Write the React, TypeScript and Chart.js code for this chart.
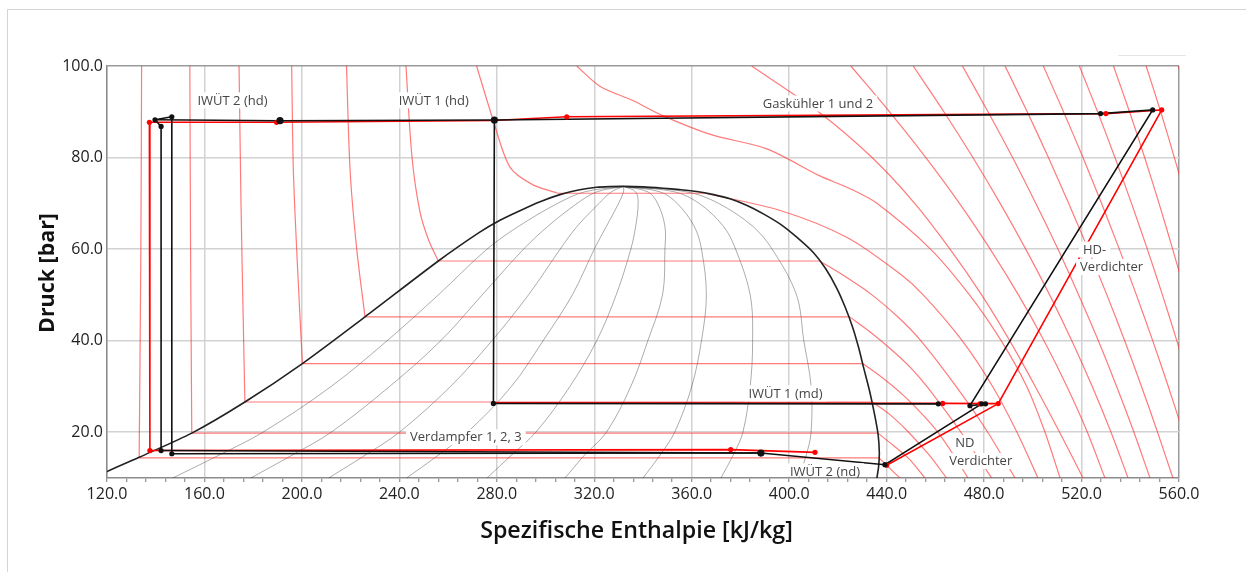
import React, { useEffect, useRef } from 'react';
import { Chart, registerables } from 'chart.js';
Chart.register(...registerables);

type Pt = [number, number];

// ---------- axes ----------
const xMajorTicks = [120, 160, 200, 240, 280, 320, 360, 400, 440, 480, 520, 560];
const xMinorDivisions = 5;
const yTicks = [20, 40, 60, 80, 100];

// ---------- saturation dome ----------
const domeCurve: Pt[] = [
  [116, 10], [120, 11.4], [133.5, 14.6], [154.8, 19.8], [176.6, 26.6], [200.2, 35], [225.9, 45.2],
  [256, 57.4], [273, 63.7], [281.3, 66.3], [289.5, 68.4], [297.5, 70.3], [305.9, 71.9], [313.5, 72.9],
  [321, 73.5], [326.5, 73.65], [331.9, 73.7], [340, 73.6], [348.3, 73.3], [355, 73], [362, 72.6],
  [369, 71.9], [375.7, 71], [382.5, 69.6], [389.4, 67.7], [396.5, 65.4], [403.1, 62.6], [410, 59.2],
  [415, 55.7], [419.5, 51.5], [423, 47.3], [426, 43], [428.5, 38.5], [430.6, 34], [433, 29], [435, 24],
  [436.5, 19.5], [437, 15.5], [436.7, 12.5], [436, 10],
];

// ---------- vapour quality lines (grey) ----------
const qualityP = [10, 15, 20, 30, 40, 50, 60, 65, 70, 72.5, 73.7];
const quality10 = [147, 166, 184, 212, 235, 256, 276, 289, 305, 316, 332];
const quality20 = [179, 196, 212, 236, 257, 274, 291, 301, 313, 321, 332];
const quality30 = [211, 226, 240, 261, 278, 293, 306, 313, 322, 327, 332];
const quality40 = [243, 256, 268, 286, 299, 311, 320, 325, 330, 332, 332];
const quality50 = [276, 286, 296, 310, 321, 329, 335, 337, 338, 337, 332];
const quality60 = [308, 316, 325, 335, 342, 348, 349, 349, 346, 342, 332];
const quality70 = [340, 347, 353, 360, 364, 366, 364, 361, 354, 347, 332];
const quality80 = [372, 377, 381, 384, 385, 384, 378, 373, 363, 353, 332];
const quality90 = [404, 407, 409, 409, 406, 403, 393, 385, 371, 358, 332];
const qualityLines = [quality10, quality20, quality30, quality40, quality50, quality60, quality70, quality80, quality90];

// ---------- isotherms (red) ----------
// liquid branches of the sub-critical isotherms (-30 ... +30 °C)
const isoLiqM30: Pt[] = [[134.2, 100], [133.9, 60], [133.2, 14.4]];
const isoLiqM20: Pt[] = [[154.0, 100], [154.3, 60], [154.8, 19.8]];
const isoLiqM10: Pt[] = [[174.2, 100], [175.0, 70], [175.9, 45], [176.6, 26.6]];
const isoLiq0: Pt[] = [[195.8, 100], [196.5, 77], [198.3, 55], [200.2, 35]];
const isoLiq10: Pt[] = [[218.3, 100], [219.8, 77], [222.5, 60], [225.9, 45.2]];
const isoLiq20: Pt[] = [[242.7, 100], [245.2, 80], [248.5, 68], [252, 62], [256, 57.4]];
const isoLiq30: Pt[] = [[271.7, 100], [278.6, 88], [285.4, 77.9], [294.3, 74.2], [305, 72.2]];
// vapour branches of the same isotherms
const isoVapM30: Pt[] = [[436.9, 14.4], [441.5, 12], [445.5, 10]];
const isoVapM20: Pt[] = [[436.4, 19.8], [443, 17], [449.5, 14], [455.7, 10]];
const isoVapM10: Pt[] = [[434.2, 26.6], [441, 24], [449, 20], [457.5, 15], [464.6, 10]];
const isoVap0: Pt[] = [[430.2, 35], [438, 32], [447, 28], [454.5, 24], [461, 20], [467.5, 15], [473.4, 10]];
const isoVap10: Pt[] = [[424.8, 45.2], [433, 42], [442, 38], [450, 34], [456.5, 30], [470.5, 20], [483.1, 10]];
const isoVap20: Pt[] = [[412.5, 57.4], [423, 54], [434, 50], [445, 45], [454, 40], [468.5, 30], [481.5, 20], [492.7, 10]];
const isoVap30: Pt[] = [[365.4, 72.2], [396, 68.5], [423.6, 62.6], [445.5, 54.6], [455, 50], [471, 40], [483.5, 30], [493.5, 20], [502.1, 10]];
const isoLiquid = [isoLiqM30, isoLiqM20, isoLiqM10, isoLiq0, isoLiq10, isoLiq20, isoLiq30];
const isoVapour = [isoVapM30, isoVapM20, isoVapM10, isoVap0, isoVap10, isoVap20, isoVap30];
// super-critical isotherms (40 ... 140 °C)
const iso40: Pt[] = [[312.8, 100], [322.3, 95.6], [336, 92.4], [348.3, 89.1], [368, 85], [390.8, 81.9], [412.6, 76], [425, 73.2], [436, 70], [458, 60], [474, 50], [487, 40], [497.5, 30], [505, 20], [511.2, 10]];
const iso50: Pt[] = [[384.6, 100], [412, 90], [434, 80], [451.5, 70], [466, 60], [479, 50], [490.5, 40], [501, 30], [511, 20], [520.6, 10]];
const iso60: Pt[] = [[425.3, 100], [441.2, 90], [456.1, 80], [469.9, 70], [482.5, 60], [494.1, 50], [504.6, 40], [514, 30], [522.4, 20], [529.6, 10]];
const iso70: Pt[] = [[450.9, 100], [463.5, 90], [475.4, 80], [486.6, 70], [497.1, 60], [506.9, 50], [516, 40], [524.4, 30], [532.1, 20], [539.1, 10]];
const iso80: Pt[] = [[471.1, 100], [481.6, 90], [491.7, 80], [501.2, 70], [510.3, 60], [518.8, 50], [526.9, 40], [534.4, 30], [541.5, 20], [548.1, 10]];
const iso90: Pt[] = [[488.6, 100], [497.7, 90], [506.4, 80], [514.7, 70], [522.7, 60], [530.4, 50], [537.7, 40], [544.6, 30], [551.2, 20], [557.5, 10]];
const iso100: Pt[] = [[504.3, 100], [512.6, 90], [520.6, 80], [528.2, 70], [535.5, 60], [542.5, 50], [549.2, 40], [555.6, 30], [561.7, 20]];
const iso110: Pt[] = [[519.1, 100], [526.6, 90], [533.7, 80], [540.5, 70], [547, 60], [553.2, 50], [559.1, 40], [564.7, 30]];
const iso120: Pt[] = [[533.1, 100], [539.7, 90], [545.9, 80], [551.8, 70], [557.4, 60], [562.8, 50]];
const iso130: Pt[] = [[546.5, 100], [552.5, 90], [558.1, 80], [563.5, 70]];
const iso140: Pt[] = [[559.8, 100], [565, 90]];
const isoSuper = [iso40, iso50, iso60, iso70, iso80, iso90, iso100, iso110, iso120, iso130, iso140];

// ---------- cycle (black = measured, red = model) ----------
const blackHighPressure: Pt[] = [[139.7, 88.25], [191.0, 88.05], [279.0, 88.2], [527.8, 89.6], [549.2, 90.4], [474.2, 25.8]];
const blackTopLeft: Pt[] = [[142.2, 86.8], [139.7, 88.25], [146.6, 88.9]];
const blackValve1: Pt[] = [[142.2, 86.8], [142.2, 16.0]];
const blackValve2: Pt[] = [[146.6, 88.9], [146.6, 15.3]];
const blackMidPressure: Pt[] = [[279.0, 88.2], [278.6, 26.3], [461.2, 26.2]];
const blackLowPressure: Pt[] = [[142.2, 16.0], [388.4, 15.45], [439.3, 12.9], [479.0, 26.2]];
const blackLowPressure2: Pt[] = [[146.6, 15.3], [388.4, 15.45]];
const blackMixing: Pt[] = [[474.2, 25.8], [480.6, 26.2]];
const blackPoints: Pt[] = [[139.7, 88.25], [146.6, 88.9], [142.2, 86.8], [527.8, 89.6], [549.2, 90.4], [278.6, 26.3], [461.2, 26.2], [474.2, 25.8], [479.0, 26.2], [480.6, 26.2], [142.2, 16.0], [146.6, 15.3], [439.3, 12.9]];
const blackBigPoints: Pt[] = [[191.0, 88.05], [279.0, 88.2], [388.4, 15.45]];

const redHighPressure: Pt[] = [[137.4, 87.7], [189.6, 87.7], [278.6, 88.1], [308.7, 88.9], [530.0, 89.6], [552.9, 90.4], [485.8, 26.25]];
const redValve: Pt[] = [[137.4, 87.7], [137.6, 16.0]];
const redLowPressure: Pt[] = [[137.6, 16.0], [376.0, 16.2], [410.6, 15.6]];
const redLowCompressor: Pt[] = [[440.0, 12.8], [485.8, 26.25]];
const redMidPressure: Pt[] = [[278.6, 26.4], [463.0, 26.3], [485.8, 26.25]];
const redPoints: Pt[] = [[137.4, 87.7], [189.6, 87.7], [308.7, 88.9], [530.0, 89.6], [552.9, 90.4], [137.6, 16.0], [376.0, 16.2], [410.6, 15.6], [463.0, 26.3], [478.3, 26.2], [485.8, 26.25], [440.0, 12.8]];

// ---------- annotations ----------
const annotations = [
  { text: 'IWÜT 2 (hd)', h: 171.5, p: 92.5, align: 'center' },
  { text: 'IWÜT 1 (hd)', h: 254.1, p: 92.5, align: 'center' },
  { text: 'Gaskühler 1 und 2', h: 411.8, p: 91.8, align: 'center' },
  { text: 'IWÜT 1 (md)', h: 398.5, p: 28.5, align: 'center' },
  { text: 'Verdampfer 1, 2, 3', h: 267.3, p: 18.9, align: 'center' },
  { text: 'IWÜT 2 (nd)', h: 414.7, p: 11.45, align: 'center' },
  { text: 'HD-', h: 520.6, p: 59.9, align: 'left' },
  { text: 'Verdichter', h: 519.4, p: 56.1, align: 'left' },
  { text: 'ND', h: 472.1, p: 17.6, align: 'center' },
  { text: 'Verdichter', h: 478.6, p: 13.7, align: 'center' },
];
const xTitle = 'Spezifische Enthalpie [kJ/kg]';
const yTitle = 'Druck [bar]';

const FONT = '"Open Sans", "Noto Sans", sans-serif';

function fitFont(ctx: CanvasRenderingContext2D, text: string, weight: string, target: number) {
  ctx.font = `${weight} 100px ${FONT}`;
  const w = ctx.measureText(text).width;
  return (100 * target) / w;
}

const textPlugin = {
  id: 'annotText',
  afterDatasetsDraw(chart: any) {
    const { ctx, chartArea, scales } = chart;
    ctx.save();
    ctx.font = `13px ${FONT}`;
    ctx.textBaseline = 'middle';
    ctx.textAlign = 'left';
    for (const a of annotations) {
      const px = scales.x.getPixelForValue(a.h);
      const py = scales.y.getPixelForValue(a.p);
      const w = ctx.measureText(a.text).width;
      const left = a.align === 'left' ? px : px - w / 2;
      const top = Math.max(chartArea.top + 1, py - 8);
      const bottom = Math.min(chartArea.bottom - 1.5, py + 8);
      ctx.fillStyle = '#ffffff';
      ctx.fillRect(left - 4, top, w + 8, bottom - top);
      ctx.fillStyle = '#454545';
      ctx.fillText(a.text, left, py + 0.5);
    }
    ctx.restore();
  },
  afterDraw(chart: any) {
    const { ctx } = chart;
    ctx.save();
    ctx.fillStyle = '#111';
    ctx.textAlign = 'center';
    ctx.textBaseline = 'alphabetic';
    const xs = fitFont(ctx, xTitle, '600', 313);
    ctx.font = `600 ${xs}px ${FONT}`;
    ctx.fillText(xTitle, 636.5, 538);
    const ys = fitFont(ctx, yTitle, 'bold', 120);
    ctx.font = `bold ${ys}px ${FONT}`;
    ctx.translate(53.5, 273);
    ctx.rotate(-Math.PI / 2);
    ctx.fillText(yTitle, 0, 0);
    ctx.restore();
  },
};

function toXY(pts: Pt[]) {
  return pts.map(([x, y]) => ({ x, y }));
}

export default function App() {
  const ref = useRef<HTMLCanvasElement>(null);

  useEffect(() => {
    const canvas = ref.current;
    if (!canvas) return;
    const datasets: any[] = [];
    const line = (pts: Pt[], color: string, width: number, order: number, tension = 0) => {
      datasets.push({
        type: 'line', data: toXY(pts), borderColor: color, borderWidth: width, pointRadius: 0,
        tension, fill: false, order, clip: 0, spanGaps: true,
      });
    };
    const points = (pts: Pt[], color: string, r: number, order: number) => {
      datasets.push({
        type: 'line', data: toXY(pts), showLine: false, pointRadius: r, pointBackgroundColor: color,
        pointBorderColor: color, pointBorderWidth: 0, order, clip: 0,
      });
    };

    const ISO = 'rgba(255, 40, 40, 0.62)';
    const GREY = 'rgba(0, 0, 0, 0.33)';

    qualityLines.forEach((hs) => line(hs.map((h, i) => [h, qualityP[i]] as Pt), GREY, 1, 60, 0.35));
    isoLiquid.forEach((liq, i) => {
      const vap = isoVapour[i];
      line(liq, ISO, 1.2, 50, 0.3);
      line([liq[liq.length - 1], vap[0]], ISO, 1.2, 50, 0);
      line(vap, ISO, 1.2, 50, 0.3);
    });
    isoSuper.forEach((pts) => line(pts, ISO, 1.2, 50, 0.3));
    line(domeCurve, '#222', 1.6, 40, 0.25);

    line(redHighPressure, '#ff0000', 1.6, 30);
    line(redValve, '#ff0000', 1.6, 30);
    line(redLowPressure, '#ff0000', 1.6, 30);
    line(redLowCompressor, '#ff0000', 1.6, 30);
    line(redMidPressure, '#ff0000', 1.6, 30);

    line(blackHighPressure, '#111', 1.6, 20);
    line(blackTopLeft, '#111', 1.6, 20);
    line(blackValve1, '#111', 1.6, 20);
    line(blackValve2, '#111', 1.6, 20);
    line(blackMidPressure, '#111', 1.6, 20);
    line(blackLowPressure, '#111', 1.6, 20);
    line(blackLowPressure2, '#111', 1.6, 20);
    line(blackMixing, '#111', 1.6, 20);

    points(redPoints, '#ff0000', 2.6, 11);
    points(blackPoints, '#111', 2.6, 10);
    points(blackBigPoints, '#111', 3.6, 9);

    const xAllTicks: number[] = [];
    for (let i = 0; i < xMajorTicks.length - 1; i++) {
      const a = xMajorTicks[i];
      const step = (xMajorTicks[i + 1] - a) / xMinorDivisions;
      for (let k = 0; k < xMinorDivisions; k++) xAllTicks.push(a + k * step);
    }
    xAllTicks.push(xMajorTicks[xMajorTicks.length - 1]);

    const chart = new Chart(canvas, {
      type: 'line',
      data: { datasets },
      options: {
        responsive: false,
        animation: false,
        devicePixelRatio: 1,
        layout: { padding: { left: 0, top: 66, right: 67, bottom: 0 } },
        plugins: { legend: { display: false }, tooltip: { enabled: false }, title: { display: false } },
        scales: {
          x: {
            type: 'linear',
            min: 120,
            max: 560,
            afterBuildTicks: (s: any) => { s.ticks = xAllTicks.map((v) => ({ value: v })); },
            afterFit: (s: any) => { s.height = 94; },
            ticks: {
              autoSkip: false, maxRotation: 0, minRotation: 0, padding: 3, color: '#222',
              font: { family: FONT, size: 16 },
              callback: (v: any) => (xMajorTicks.includes(Math.round(v)) ? Number(v).toFixed(1) : ''),
            },
            grid: {
              color: (c: any) => {
                const v = c.tick ? Math.round(c.tick.value) : -1;
                if (v === 560) return '#9a9a9a';
                return xMajorTicks.includes(v) ? '#d2d2d2' : 'rgba(0,0,0,0)';
              },
              lineWidth: 1.5, tickColor: '#777', tickLength: 4, tickWidth: 1,
            },
            border: { color: '#8c8c8c', width: 1.5 },
          },
          y: {
            type: 'linear',
            min: 10,
            max: 100,
            afterBuildTicks: (s: any) => { s.ticks = yTicks.map((v) => ({ value: v })); },
            afterFit: (s: any) => { s.width = 107; },
            ticks: {
              padding: 4, color: '#222', font: { family: FONT, size: 16 },
              callback: (v: any) => Number(v).toFixed(1),
            },
            grid: {
              color: (c: any) => (c.tick && c.tick.value === 100 ? '#9a9a9a' : '#d2d2d2'),
              lineWidth: 1.5, drawTicks: false,
            },
            border: { color: '#8c8c8c', width: 1.5 },
          },
        },
      } as any,
      plugins: [textPlugin as any],
    });
    return () => chart.destroy();
  }, []);

  return (
    <div style={{ position: 'fixed', left: 0, top: 0, width: 1246, height: 572, background: '#fff', overflow: 'hidden' }}>
      <div style={{ position: 'absolute', left: 7, top: 9, right: -2, bottom: -2, borderTop: '1px solid #d4d4d4', borderLeft: '1px solid #d4d4d4' }} />
      <div style={{ position: 'absolute', left: 1118, top: 55, width: 68, height: 0, borderTop: '1px solid #e4e4e4' }} />
      <canvas ref={ref} width={1246} height={572} style={{ position: 'absolute', left: 0, top: 0 }} />
    </div>
  );
}
